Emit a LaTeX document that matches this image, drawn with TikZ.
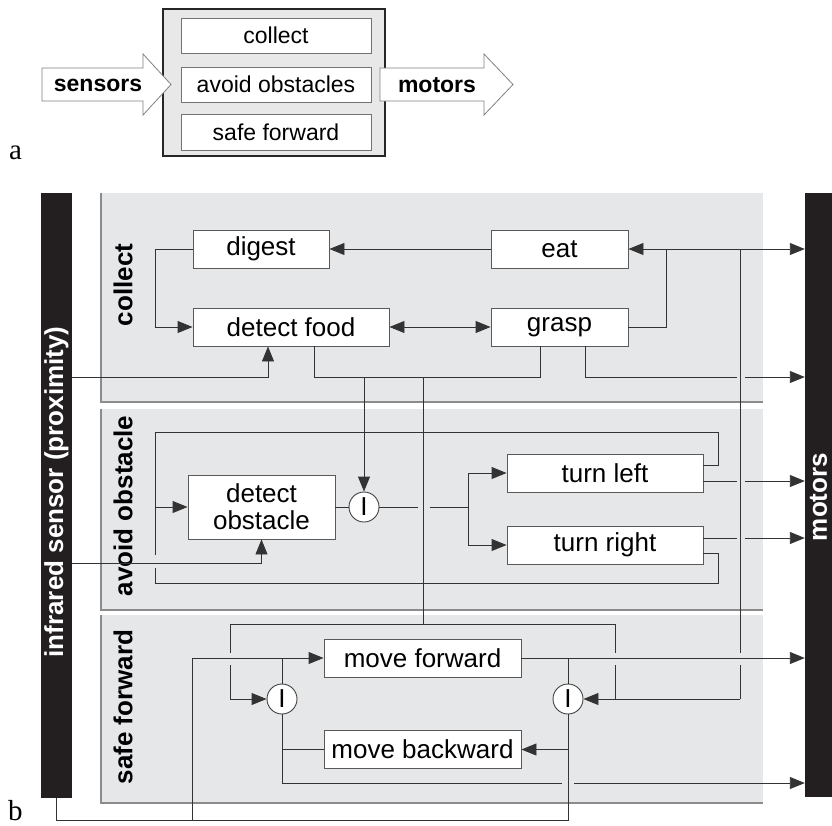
\documentclass[tikz,border=0pt]{standalone}
\usepackage{fontspec}
\setmainfont{Liberation Sans}
\newfontfamily\serifa{Liberation Serif}
\usetikzlibrary{arrows.meta}
\definecolor{panelgray}{RGB}{230,231,233}
\definecolor{panelline}{RGB}{140,140,142}
\definecolor{barblack}{RGB}{35,31,32}
\begin{document}
\begin{tikzpicture}[x=1pt,y=-1pt,
  wire/.style={draw=black!80, line width=0.9pt},
  arr/.style={wire, -{Triangle[length=15pt,width=12pt]}},
  darr/.style={wire, {Triangle[length=15pt,width=12pt]}-{Triangle[length=15pt,width=12pt]}},
  bx/.style={draw=black!65, fill=white, line width=0.9pt, inner sep=0pt, minimum height=38pt, font=\fontsize{26}{27}\selectfont},
  inh/.style={circle, draw=black!75, fill=white, line width=0.9pt, minimum size=30pt, inner sep=0pt, font=\fontsize{26}{27}\selectfont},
  plabel/.style={rotate=90, inner sep=0pt, font=\fontsize{26}{27}\selectfont\bfseries},
  topbx/.style={draw=black!55, fill=white, line width=0.8pt, minimum width=190pt, inner sep=0pt, font=\fontsize{23}{24}\selectfont},
  fat/.style={draw=black!50, fill=white, line width=0.8pt, line join=miter},
  letter/.style={inner sep=0pt, anchor=base west, font=\serifa\fontsize{29}{30}\selectfont}
]
\useasboundingbox (0,0) rectangle (832,825);

%% ---------- part a ----------
\node[draw=black!85, line width=2.5pt, fill=black!9, minimum width=222pt, minimum height=147pt, inner sep=0pt] (topbox) at (274,82.5) {};
\node[topbx, minimum height=35pt] (tcollect) at (276,35.5) {collect};
\node[topbx, minimum height=35pt] (tavoid) at (276,84.5) {avoid obstacles};
\node[topbx, minimum height=36pt] (tsafe) at (276,132) {safe forward};
\draw[fat] (42,68) -- (143,68) -- (143,54) -- (171,84.5) -- (143,115) -- (143,101) -- (42,101) -- cycle;
\draw[fat] (380,68) -- (484,68) -- (484,54) -- (513,84.5) -- (484,115) -- (484,101) -- (380,101) -- cycle;
\node[font=\fontsize{23}{24}\selectfont\bfseries, inner sep=0pt] (tsensors) at (98,85) {sensors};
\node[font=\fontsize{23}{24}\selectfont\bfseries, inner sep=0pt] (tmotors) at (437,85) {motors};
\node[letter] (la) at (9,159) {a};

%% ---------- part b: panels ----------
\fill[panelgray] (101,193) rectangle (763,402);
\draw[panelline, line width=1.6pt] (101,193) -- (101,402) -- (763,402);
\fill[panelgray] (101,409) rectangle (763,610);
\draw[panelline, line width=1.6pt] (101,409) -- (101,610) -- (763,610);
\fill[panelgray] (101,615) rectangle (763,803);
\draw[panelline, line width=1.6pt] (101,615) -- (101,803) -- (763,803);

\node[plabel] (lcollect) at (123,285) {collect};
\node[plabel] (lavoid) at (123,506) {avoid obstacle};
\node[plabel] (lsafe) at (123,707) {safe forward};

%% sensor and motor bars
\node[fill=barblack, minimum width=31pt, minimum height=605pt, inner sep=0pt] (infra) at (56.5,495.5) {};
\node[plabel, text=white] (linfra) at (56.5,492) {infrared sensor (proximity)};
\node[fill=barblack, minimum width=27pt, minimum height=604pt, inner sep=0pt] (mbar) at (818.5,495) {};
\node[plabel, text=white] (lmotors) at (818.5,497) {motors};
\node[letter] (lb) at (8,820) {b};

%% ---------- nodes ----------
\node[bx, minimum width=136pt] (digest) at (261,249) {digest};
\node[bx, minimum width=196pt] (dfood) at (291,327) {detect food};
\node[bx, minimum width=137pt] (eat) at (559.5,249) {eat};
\node[bx, minimum width=137pt] (grasp) at (559.5,327) {grasp};

\node[bx, minimum width=147pt, minimum height=64pt, align=center] (dobs) at (261.5,507) {detect\\obstacle};
\node[inh] (I1) at (364,507) {I};
\node[bx, minimum width=196pt] (tl) at (605,473) {turn left};
\node[bx, minimum width=196pt] (tr) at (605,545) {turn right};

\node[bx, minimum width=197pt] (mf) at (422.5,658) {move forward};
\node[bx, minimum width=197pt] (mb) at (422.5,749.5) {move backward};
\node[inh] (I2) at (282,699) {I};
\node[inh] (I3) at (568,699) {I};

%% ---------- connectors: collect ----------
\draw[arr] (eat.west) -- (digest.east);
\draw[arr] (digest.west) -- (155,249) |- (dfood.west);
\draw[darr] (dfood.east) -- (grasp.west);
\coordinate (j1) at (666,249);
\draw[wire] (grasp.east) -| (j1);
\draw[arr] (j1) -- (eat.east);
\draw[arr] (j1) -- (mbar.west |- j1);
\draw[wire] (740,249) -- (740,653);
\draw[wire] (740,665) -- (740,699);
\draw[arr] (740,699) -- (I3.east);
\draw[arr] (infra.east |- 0,377) -| ([xshift=-23pt]dfood.south);
\draw[wire] ([xshift=23pt]dfood.south) |- (540,377) -- ([xshift=-19.5pt]grasp.south);
\draw[arr] (364,377) -- (I1.north);
\draw[wire] (423,377) -- (423,624);
\draw[wire] ([xshift=25.5pt]grasp.south) |- (737,377);
\draw[arr] (745,377) -- (mbar.west |- 0,377);

%% ---------- connectors: avoid obstacle ----------
\draw[arr] (infra.east |- 0,563) -| (dobs.south);
\draw[wire] ([yshift=8pt]tl.east) -- (718,465) |- (155,432) -- (155,555);
\draw[arr] (155,507) -- (dobs.west);
\draw[wire] ([yshift=-8pt]tr.east) -- (718,553) |- (155,583) -- (155,568);
\draw[wire] (dobs.east) -- (I1.west);
\draw[wire] (I1.east) -- (418,507);
\draw[wire] (430,507) -- (468,507);
\draw[arr] (468,507) |- (tl.west);
\draw[arr] (468,507) |- (tr.west);
\draw[wire] ([yshift=-8pt]tl.east) -- (737,481);
\draw[arr] (745,481) -- (mbar.west |- 0,481);
\draw[wire] ([yshift=7pt]tr.east) -- (737,538);
\draw[arr] (745,538) -- (mbar.west |- 0,538);

%% ---------- connectors: safe forward ----------
\draw[wire] (230,653) -- (230,624) -- (615,624) -- (615,653);
\draw[arr] (230,665) |- (I2.west);
\draw[wire] (615,665) -- (615,699);
\draw[wire] (infra.south) |- (568,820) -- (I3.south);
\draw[arr] (192,820) |- (mf.west);
\draw[wire] (282,659) -- (I2.north);
\draw[arr] (mf.east) -- (mbar.west |- mf.east);
\draw[wire] (568,659) -- (I3.north);
\draw[wire] (I2.south) |- (562,783);
\draw[arr] (574,783) -- (mbar.west |- 0,783);
\draw[wire] (282,749.5) -- (mb.west);
\draw[arr] (568,749.5) -- (mb.east);
\end{tikzpicture}
\end{document}
